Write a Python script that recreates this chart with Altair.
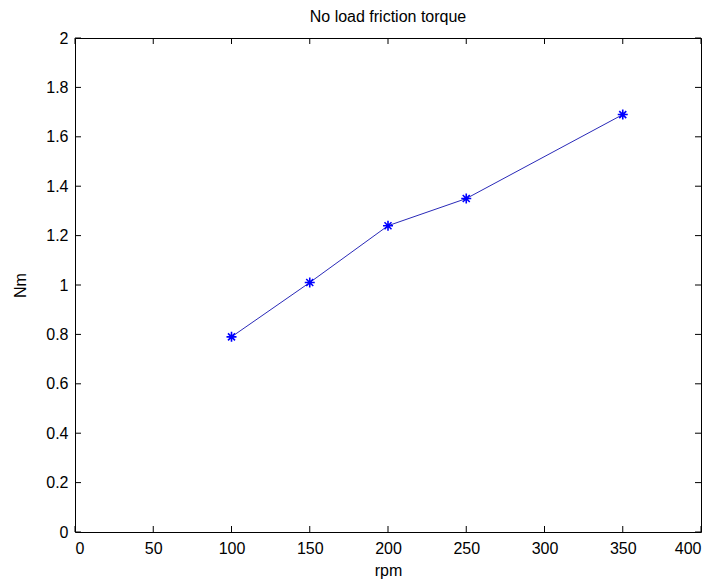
import altair as alt
import pandas as pd

rpm = [100, 150, 200, 250, 350]
torque = [0.79, 1.01, 1.24, 1.35, 1.69]
x_ticks = [0, 50, 100, 150, 200, 250, 300, 350, 400]
y_ticks = [0, 0.2, 0.4, 0.6, 0.8, 1, 1.2, 1.4, 1.6, 1.8, 2]

W, H = 626, 494
FONT = "Liberation Sans"

df = pd.DataFrame({"rpm": rpm, "Nm": torque})
xt = pd.DataFrame({"v": x_ticks})
yt = pd.DataFrame({"v": y_ticks})

xscale = alt.Scale(domain=[0, 400], nice=False, zero=False)
yscale = alt.Scale(domain=[0, 2], nice=False, zero=False)

xaxis = alt.Axis(values=x_ticks, format="d", grid=False, ticks=False, domain=False,
                 labelFont=FONT, labelFontSize=16, labelColor="black", labelPadding=8,
                 titleFont=FONT, titleFontSize=16, titleFontWeight="normal", titleColor="black",
                 titlePadding=6)
yaxis = alt.Axis(values=y_ticks, format="~g", grid=False, ticks=False, domain=False,
                 labelFont=FONT, labelFontSize=16, labelColor="black", labelPadding=7,
                 titleFont=FONT, titleFontSize=16, titleFontWeight="normal", titleColor="black",
                 titlePadding=17)

line = alt.Chart(df).mark_line(color="#2a2ab8", strokeWidth=1).encode(
    x=alt.X("rpm:Q", scale=xscale, axis=xaxis, title="rpm"),
    y=alt.Y("Nm:Q", scale=yscale, axis=yaxis, title="Nm"),
)

asterisk = "M-1,0L1,0M0,-1L0,1M-0.7,-0.7L0.7,0.7M-0.7,0.7L0.7,-0.7"
pts = alt.Chart(df).mark_point(shape=asterisk, filled=False, stroke="#0000ff",
                               strokeWidth=1.6, size=100, opacity=1).encode(
    x=alt.X("rpm:Q", scale=xscale),
    y=alt.Y("Nm:Q", scale=yscale),
)

tick_style = dict(color="black", thickness=1, size=6, opacity=1)
bt = alt.Chart(xt).mark_tick(orient="vertical", **tick_style).encode(
    x=alt.X("v:Q", scale=xscale), y=alt.value(H - 3))
tt = alt.Chart(xt).mark_tick(orient="vertical", **tick_style).encode(
    x=alt.X("v:Q", scale=xscale), y=alt.value(3))
lt = alt.Chart(yt).mark_tick(orient="horizontal", **tick_style).encode(
    y=alt.Y("v:Q", scale=yscale), x=alt.value(3))
rt = alt.Chart(yt).mark_tick(orient="horizontal", **tick_style).encode(
    y=alt.Y("v:Q", scale=yscale), x=alt.value(W - 3))

chart = alt.layer(bt, tt, lt, rt, line, pts).properties(
    width=W, height=H,
    title=alt.TitleParams("No load friction torque", font=FONT, fontSize=16,
                          fontWeight="normal", color="black", offset=5),
    autosize=alt.AutoSizeParams(type="none"),
    padding={"left": 67, "top": 30, "right": 2, "bottom": 50},
    background="white",
).configure_view(stroke="black", strokeWidth=1)

chart.save("out.html", embed_options={"renderer": "svg", "actions": False})
